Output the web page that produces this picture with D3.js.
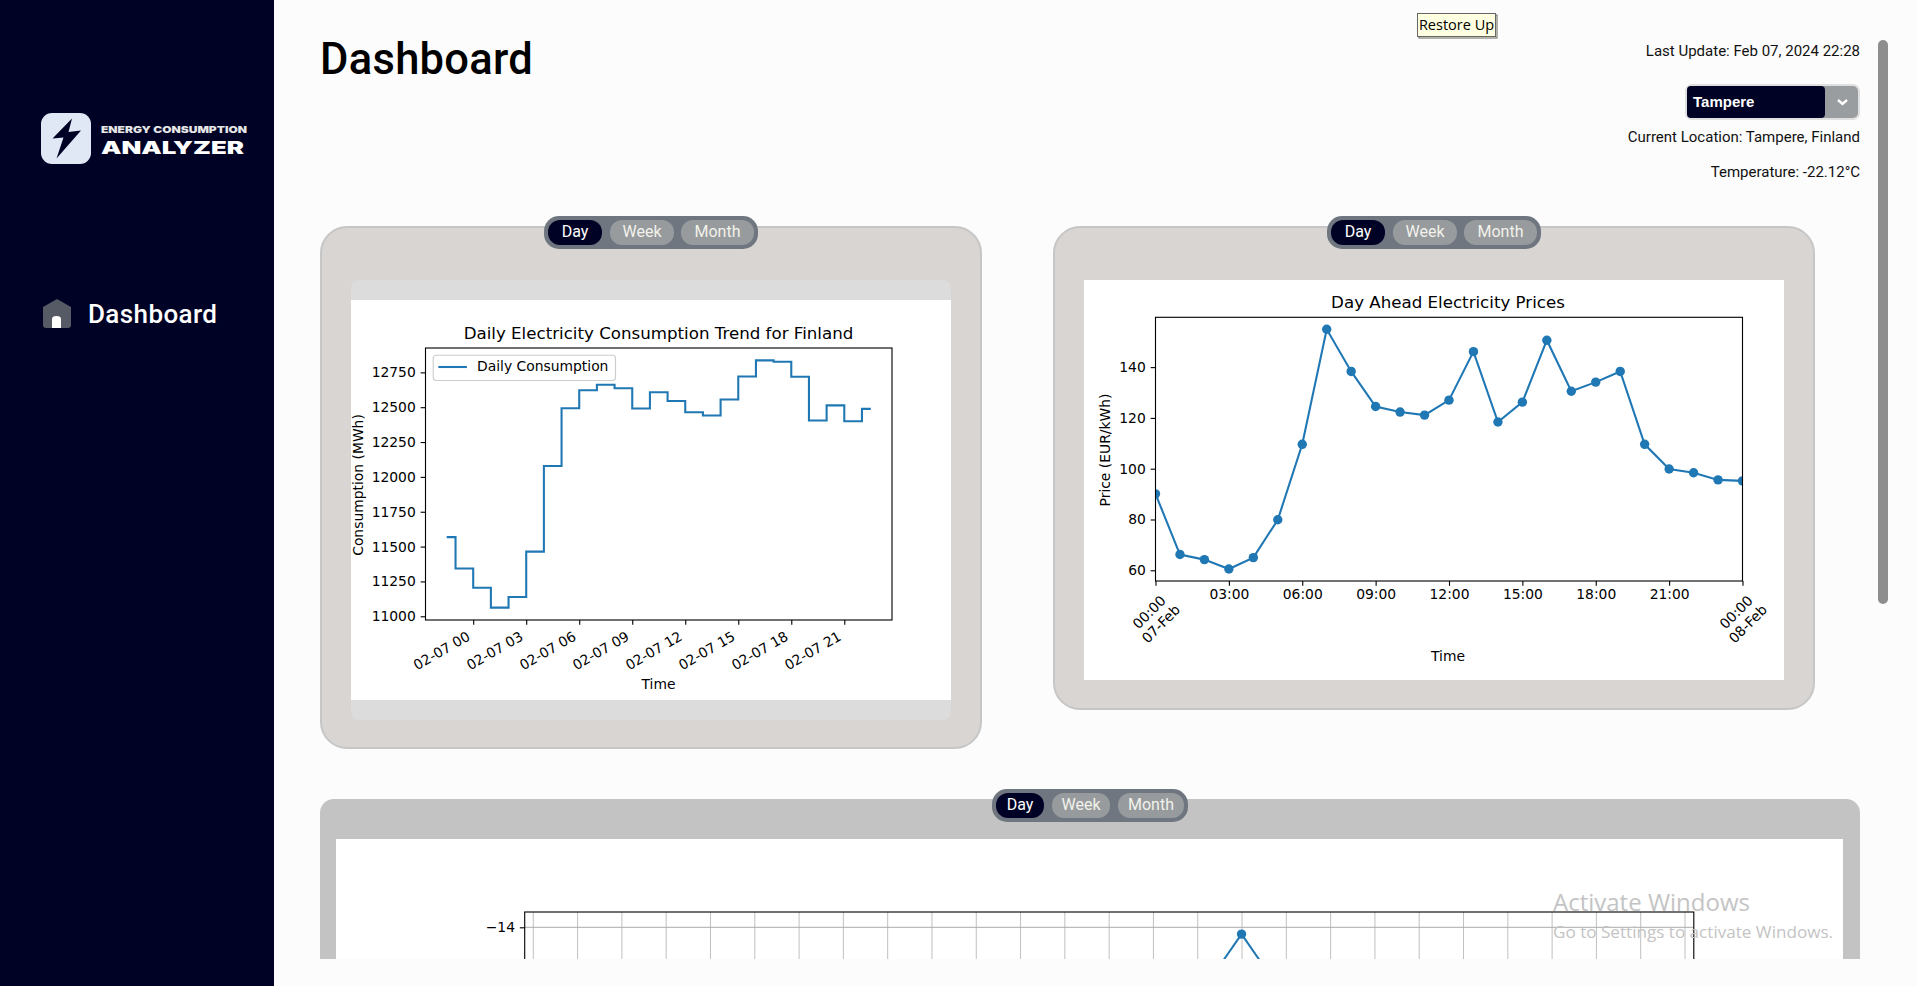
<!DOCTYPE html>
<html>
<head>
<meta charset="utf-8">
<title>Dashboard</title>
<script src="https://d3js.org/d3.v7.min.js"></script>
<style>
  html, body { margin: 0; padding: 0; background: #fcfcfc; overflow: hidden; }
  svg { display: block; }
  text { font-family: Roboto, sans-serif; }
  .mpl text { font-family: "DejaVu Sans", sans-serif; fill: #000; }
</style>
</head>
<body>
<div id="page"></div>

<script>
  // consumption chart data, hourly readings on 07 Feb
  var consumptionTimes = ["2024-02-06T22:30Z", "2024-02-06T23:30Z", "2024-02-07T00:30Z", "2024-02-07T01:30Z", "2024-02-07T02:30Z",
    "2024-02-07T03:30Z", "2024-02-07T04:30Z", "2024-02-07T05:30Z", "2024-02-07T06:30Z", "2024-02-07T07:30Z",
    "2024-02-07T08:30Z", "2024-02-07T09:30Z", "2024-02-07T10:30Z", "2024-02-07T11:30Z", "2024-02-07T12:30Z",
    "2024-02-07T13:30Z", "2024-02-07T14:30Z", "2024-02-07T15:30Z", "2024-02-07T16:30Z", "2024-02-07T17:30Z",
    "2024-02-07T18:30Z", "2024-02-07T19:30Z", "2024-02-07T20:30Z", "2024-02-07T21:30Z", "2024-02-07T22:30Z"];
  var consumptionValues = [11568, 11343, 11205, 11062, 11138, 11464, 12078, 12493, 12621, 12661, 12636, 12491,
    12607, 12545, 12464, 12441, 12555, 12720, 12836, 12826, 12718, 12404, 12513, 12399, 12488];
  var consumptionYTicks = [11000, 11250, 11500, 11750, 12000, 12250, 12500, 12750];
  var consumptionXTicks = ["2024-02-07T00:00Z", "2024-02-07T03:00Z", "2024-02-07T06:00Z", "2024-02-07T09:00Z",
    "2024-02-07T12:00Z", "2024-02-07T15:00Z", "2024-02-07T18:00Z", "2024-02-07T21:00Z"];

  // day ahead prices, 00:00 07-Feb to 00:00 08-Feb
  var priceHours = d3.range(0, 25);
  var priceValues = [90.1, 66.2, 64.2, 60.5, 65, 79.9, 109.6, 154.9, 138.3, 124.5, 122.3, 121.1, 127,
    146.1, 118.4, 126.2, 150.6, 130.5, 134.1, 138.3, 109.6, 99.9, 98.4, 95.6, 95.2];
  var priceYTicks = [60, 80, 100, 120, 140];
  var priceXTicks = [0, 3, 6, 9, 12, 15, 18, 21, 24];

  // third chart, only its top edge is on screen
  var tempHours = [15, 16, 17];
  var tempValues = [-15.77, -14.17, -15.77];
  var tempYTicks = [-14];
  var tempXTicks = d3.range(0, 27);

  var toggleLabels = ["Day", "Week", "Month"];
  var blue = "#1f77b4";
  var navy = "#000225";

  var page = d3.select("#page").append("svg").attr("width", 1917).attr("height", 986);

  // everything right of the sidebar is cut off at y=959 by the window
  var content = page.append("svg").attr("width", 1917).attr("height", 959);

  function box(parent, x, y, w, h, r, fill, stroke) {
    return parent.append("rect").attr("x", x).attr("y", y).attr("width", w).attr("height", h)
      .attr("rx", r).attr("ry", r).attr("fill", fill).attr("stroke", stroke || "none");
  }

  function label(parent, x, y, txt, size, fill, anchor, weight) {
    return parent.append("text").attr("x", x).attr("y", y).attr("dy", "0.35em")
      .attr("font-size", size).attr("fill", fill).attr("text-anchor", anchor || "start")
      .attr("font-weight", weight || 400).text(txt);
  }

  // Day / Week / Month pill
  function toggle(x, y, w, h, buttons) {
    box(content, x, y, w, h, 15, "#6f7680");
    buttons.forEach(function(b, i) {
      box(content, b[0], y + 4, b[1] - b[0], h - 8, 12, i == 0 ? navy : "#979b9e");
      label(content, (b[0] + b[1]) / 2, y + h / 2 - 1, toggleLabels[i], 16, i == 0 ? "#fff" : "#f2f2ea", "middle");
    });
  }

  // matplotlib figure placed at its pixel size on the page
  function figure(x, y, w, h) {
    return content.append("svg").attr("class", "mpl").attr("x", x).attr("y", y).attr("width", w).attr("height", h);
  }

  function styleAxis(sel) {
    sel.selectAll("text").attr("font-size", 13.89);
    sel.selectAll("line").attr("stroke", "#000").attr("stroke-width", 1.11);
    sel.select(".domain").remove();
  }

  function frame(fig, left, right, top, bottom) {
    fig.append("rect").attr("x", left).attr("y", top).attr("width", right - left).attr("height", bottom - top)
      .attr("fill", "none").attr("stroke", "#000").attr("stroke-width", 1.11);
  }

  function withMargin(extent) {
    var pad = (extent[1] - extent[0]) * 0.05;
    return [extent[0] - pad, extent[1] + pad];
  }

  /* ---------- header ---------- */
  label(content, 320, 59, "Dashboard", 43.5, "#000", "start", 500).attr("letter-spacing", 0.3);
  label(content, 1860, 51, "Last Update: Feb 07, 2024 22:28", 15, "#111", "end");
  label(content, 1860, 137, "Current Location: Tampere, Finland", 15, "#111", "end");
  label(content, 1860, 172, "Temperature: -22.12°C", 15, "#111", "end");

  box(content, 1686, 85, 173, 34, 6, "#9a9da0", "#e0e0e0").attr("stroke-width", 2);
  box(content, 1687, 86, 138, 32, 4, navy);
  label(content, 1693, 102, "Tampere", 15, "#fff", "start", 700).style("font-family", "'Liberation Sans'");
  content.append("path").attr("d", "M1838 100 L1842.5 104 L1847 100").attr("fill", "none")
    .attr("stroke", "#fff").attr("stroke-width", 2.4);

  /* ---------- first panel: consumption ---------- */
  box(content, 321, 227, 660, 521, 26, "#d8d5d3", "#c6c6c6").attr("stroke-width", 2);
  box(content, 351, 280, 600, 440, 8, "#dcdcdc");
  content.append("rect").attr("x", 351).attr("y", 300).attr("width", 600).attr("height", 400).attr("fill", "#fff");
  toggle(544, 216, 214, 33, [[548, 602], [610, 674], [681, 754]]);

  var fig1 = figure(351, 300, 600, 400);
  var left1 = 74.5, right1 = 541, top1 = 48, bottom1 = 320;
  var times1 = consumptionTimes.map(function(d) { return new Date(d); });

  var x1 = d3.scaleUtc().domain(withMargin(d3.extent(times1, function(d) { return +d; }))).range([left1, right1]);
  var y1 = d3.scaleLinear().domain(withMargin(d3.extent(consumptionValues))).range([bottom1, top1]);

  var xAxis1 = fig1.append("g").attr("transform", "translate(0," + bottom1 + ")")
    .call(d3.axisBottom(x1).tickValues(consumptionXTicks.map(function(d) { return new Date(d); }))
      .tickFormat(d3.utcFormat("%m-%d %H")).tickSize(4.86))
    .call(styleAxis);
  xAxis1.selectAll("text").attr("y", 0).attr("dy", "0.35em").attr("text-anchor", "end")
    .attr("transform", "translate(-5,15) rotate(-30)");

  fig1.append("g").attr("transform", "translate(" + left1 + ",0)")
    .call(d3.axisLeft(y1).tickValues(consumptionYTicks).tickFormat(d3.format("d")).tickSize(4.86).tickPadding(4.86))
    .call(styleAxis);

  var line1 = d3.line()
    .x(function(d, i) { return x1(times1[i]); })
    .y(function(d) { return y1(d); })
    .curve(d3.curveStep);

  fig1.append("path").datum(consumptionValues).attr("d", line1)
    .attr("fill", "none").attr("stroke", blue).attr("stroke-width", 2.08);
  frame(fig1, left1, right1, top1, bottom1);

  fig1.append("text").attr("x", 307.5).attr("y", 39).attr("text-anchor", "middle").attr("font-size", 16.67)
    .text("Daily Electricity Consumption Trend for Finland");
  fig1.append("text").attr("x", 307.5).attr("y", 384).attr("dy", "0.35em").attr("text-anchor", "middle").attr("font-size", 13.89).text("Time");
  fig1.append("text").attr("transform", "translate(12,185) rotate(-90)").attr("text-anchor", "middle")
    .attr("font-size", 13.89).text("Consumption (MWh)");

  // legend
  fig1.append("rect").attr("x", 82.2).attr("y", 55.3).attr("width", 182.3).attr("height", 25.2).attr("rx", 3)
    .attr("fill", "#fff").attr("stroke", "#ccc").attr("stroke-width", 1.11);
  fig1.append("line").attr("x1", 87.3).attr("x2", 115.9).attr("y1", 67).attr("y2", 67)
    .attr("stroke", blue).attr("stroke-width", 2.08);
  fig1.append("text").attr("x", 126).attr("y", 66).attr("dy", "0.35em").attr("font-size", 13.89).text("Daily Consumption");

  /* ---------- second panel: prices ---------- */
  box(content, 1054, 227, 760, 482, 26, "#d8d5d3", "#c6c6c6").attr("stroke-width", 2);
  content.append("rect").attr("x", 1084).attr("y", 280).attr("width", 700).attr("height", 400).attr("fill", "#fff");
  toggle(1327, 216, 214, 33, [[1331, 1385], [1393, 1457], [1464, 1537]]);

  var fig2 = figure(1084, 280, 700, 400);
  var left2 = 71.5, right2 = 658.5, top2 = 37.3, bottom2 = 301;

  var x2 = d3.scaleLinear().domain(d3.extent(priceHours)).range([left2, right2]);
  var y2 = d3.scaleLinear().domain(withMargin(d3.extent(priceValues))).range([bottom2, top2]);

  var xAxis2 = fig2.append("g").attr("transform", "translate(0," + bottom2 + ")")
    .call(d3.axisBottom(x2).tickValues(priceXTicks).tickSize(4.86).tickPadding(3.5)
      .tickFormat(function(h) { return d3.format("02d")(h % 24) + ":00"; }))
    .call(styleAxis);

  // midnight ticks carry the date and sit rotated below the others
  xAxis2.selectAll("text").filter(function(h) { return h % 24 == 0; }).each(function(h) {
    var t = d3.select(this).text(null).attr("y", 0).attr("dy", null).attr("text-anchor", "middle")
      .attr("transform", "translate(-1,37) rotate(-45)");
    t.append("tspan").attr("x", 0).attr("dy", "-0.25em").text("00:00");
    t.append("tspan").attr("x", 0).attr("dy", "1.2em").text(h == 0 ? "07-Feb" : "08-Feb");
  });

  fig2.append("g").attr("transform", "translate(" + left2 + ",0)")
    .call(d3.axisLeft(y2).tickValues(priceYTicks).tickSize(4.86).tickPadding(4.86))
    .call(styleAxis);

  var line2 = d3.line()
    .x(function(d, i) { return x2(priceHours[i]); })
    .y(function(d) { return y2(d); });

  // markers are clipped by the axes box like matplotlib does
  fig2.append("clipPath").attr("id", "priceClip").append("rect")
    .attr("x", left2).attr("y", top2).attr("width", right2 - left2).attr("height", bottom2 - top2);
  var plot2 = fig2.append("g").attr("clip-path", "url(#priceClip)");
  plot2.append("path").datum(priceValues).attr("d", line2)
    .attr("fill", "none").attr("stroke", blue).attr("stroke-width", 2.08);
  plot2.selectAll("circle").data(priceValues).enter().append("circle")
    .attr("cx", function(d, i) { return x2(priceHours[i]); })
    .attr("cy", function(d) { return y2(d); })
    .attr("r", 4.7).attr("fill", blue);
  frame(fig2, left2, right2, top2, bottom2);

  fig2.append("text").attr("x", 364).attr("y", 27.5).attr("text-anchor", "middle").attr("font-size", 16.67)
    .text("Day Ahead Electricity Prices");
  fig2.append("text").attr("x", 364).attr("y", 376).attr("dy", "0.35em").attr("text-anchor", "middle").attr("font-size", 13.89).text("Time");
  fig2.append("text").attr("transform", "translate(25.5,170) rotate(-90)").attr("text-anchor", "middle")
    .attr("font-size", 13.89).text("Price (EUR/kWh)");

  /* ---------- third panel: cut off by the window ---------- */
  box(content, 320, 799, 1540, 300, 14, "#c3c3c3");
  content.append("rect").attr("x", 336).attr("y", 839).attr("width", 1507).attr("height", 200).attr("fill", "#fff");
  toggle(992, 789, 196, 33, [[996, 1044], [1052, 1110], [1118, 1184]]);

  var fig3 = content.append("g").attr("class", "mpl");
  var left3 = 524.7, right3 = 1693.8, top3 = 912, bottom3 = 1040;

  var x3 = d3.scaleLinear().domain([-0.183, 26.21]).range([left3, right3]);
  var y3 = d3.scaleLinear().domain([-14, -15]).range([927.3, 967.3]);

  fig3.append("g").attr("transform", "translate(0," + top3 + ")")
    .call(d3.axisBottom(x3).tickValues(tempXTicks).tickSize(bottom3 - top3).tickFormat(""))
    .call(function(g) {
      g.select(".domain").remove();
      g.selectAll("line").attr("stroke", "#b0b0b0").attr("stroke-width", 0.8);
    });

  var yAxis3 = fig3.append("g").attr("transform", "translate(" + left3 + ",0)")
    .call(d3.axisLeft(y3).tickValues(tempYTicks).tickFormat(d3.format("d")).tickSize(4.86).tickPadding(4.86));
  styleAxis(yAxis3);

  fig3.append("line").attr("x1", left3).attr("x2", right3).attr("y1", y3(tempYTicks[0])).attr("y2", y3(tempYTicks[0]))
    .attr("stroke", "#aaa").attr("stroke-width", 1);

  var line3 = d3.line()
    .x(function(d, i) { return x3(tempHours[i]); })
    .y(function(d) { return y3(d); });
  fig3.append("path").datum(tempValues).attr("d", line3)
    .attr("fill", "none").attr("stroke", blue).attr("stroke-width", 2);
  fig3.selectAll("circle").data(tempValues).enter().append("circle")
    .attr("cx", function(d, i) { return x3(tempHours[i]); })
    .attr("cy", function(d) { return y3(d); })
    .attr("r", 4.7).attr("fill", blue);
  frame(fig3, left3, right3, top3, bottom3);

  /* ---------- windows watermark ---------- */
  label(content, 1553, 903, "Activate Windows", 24, "#c4c4c4").style("font-family", "'Open Sans'");
  label(content, 1553, 932, "Go to Settings to activate Windows.", 17.1, "#c4c4c4").style("font-family", "'Open Sans'");

  /* ---------- sidebar ---------- */
  page.append("rect").attr("width", 274).attr("height", 986).attr("fill", navy);
  box(page, 41, 113, 50, 51, 11, "#e1e8f5");
  page.append("path").attr("d", "M72 118.5 L52.5 138.5 L63.5 137.5 L56.5 158.5 L81 130.5 L68.5 132 Z").attr("fill", navy);
  label(page, 101, 130, "ENERGY CONSUMPTION", 9.5, "#e6e6e6", "start", 900)
    .style("font-family", "Inter").attr("textLength", 146).attr("lengthAdjust", "spacingAndGlyphs");
  label(page, 101, 148, "ANALYZER", 17, "#fff", "start", 900)
    .style("font-family", "Inter").attr("textLength", 143).attr("lengthAdjust", "spacingAndGlyphs");

  page.append("path").attr("d", "M57 299 L71 307 L71 325 Q71 328 68 328 L46 328 Q43 328 43 325 L43 307 Z").attr("fill", "#555a65");
  page.append("path").attr("d", "M52 328 L52 319 Q52 316 56.5 316 Q61 316 61 319 L61 328 Z").attr("fill", "#fff");
  label(page, 88, 314, "Dashboard", 26, "#fff", "start", 500).attr("letter-spacing", 0.4);

  /* ---------- window bits ---------- */
  box(page, 1878, 40, 10, 564, 5, "#8e8e8e");
  page.append("rect").attr("x", 1419).attr("y", 15).attr("width", 78).attr("height", 23).attr("fill", "#ffffe1").attr("stroke", "#666");
  page.append("rect").attr("x", 1417.5).attr("y", 13.5).attr("width", 78).attr("height", 23).attr("fill", "#ffffe1").attr("stroke", "#666");
  label(page, 1456.5, 25, "Restore Up", 14.5, "#000", "middle").style("font-family", "'Open Sans'");
</script>
</body>
</html>
